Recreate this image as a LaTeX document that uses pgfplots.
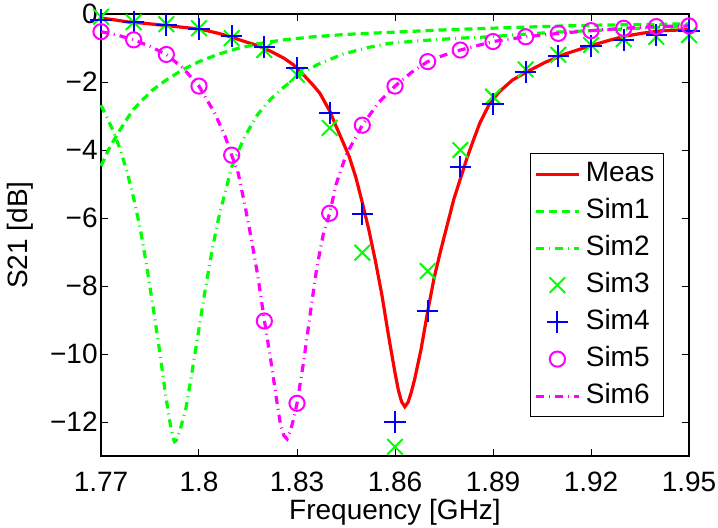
\documentclass[border=0pt]{standalone}
\usepackage{fontspec}
\setmainfont{Liberation Sans}
\usepackage{pgfplots}
\pgfplotsset{compat=1.18}
\definecolor{mred}{RGB}{255,0,0}
\definecolor{mgreen}{RGB}{0,255,0}
\definecolor{mblue}{RGB}{0,0,255}
\definecolor{mmag}{RGB}{255,0,255}
\begin{document}
\begin{tikzpicture}
\begin{axis}[
  scale only axis, width=294pt, height=221pt,
  xmin=1.77, xmax=1.95, ymin=-13, ymax=0,
  xtick={1.77,1.8,1.83,1.86,1.89,1.92,1.95},
  xticklabels={1.77,1.8,1.83,1.86,1.89,1.92,1.95},
  ytick={-12,-10,-8,-6,-4,-2,0},
  yticklabels={−12,−10,−8,−6,−4,−2,0},
  tick align=inside, major tick length=3.5pt,
  tick style={black, line width=0.5pt},
  axis line style={black, line width=0.6pt},
  ticklabel style={font=\fontsize{14}{16}\selectfont},
  xticklabel style={yshift=-4.5pt},
  yticklabel style={inner xsep=1.5pt},
  every axis x label/.style={at={(axis description cs:0.5,-0.1267)}, anchor=center, font=\fontsize{14}{16}\selectfont},
  every axis y label/.style={at={(axis description cs:-0.1378,0.5)}, rotate=90, anchor=center, font=\fontsize{14}{16}\selectfont},
  xlabel={Frequency [GHz]}, ylabel={S21 [dB]},
  clip=false,
  legend image code/.code={\draw[mark repeat=2,mark phase=2,#1] plot coordinates {(0cm,0cm) (0.38cm,0cm) (0.76cm,0cm)};},
  legend style={at={(axis description cs:0.9575,0.088)}, anchor=south east, draw=black, line width=0.5pt, fill=white,
    font=\fontsize{14}{16}\selectfont, row sep=0pt, inner xsep=2pt, inner ysep=1pt,
    nodes={inner sep=2.6pt, text height=10.3pt, text depth=3pt}},
  legend cell align=left,
]
\coordinate (bl) at (rel axis cs:0,0);
\coordinate (tr) at (rel axis cs:1,1);
% Meas
\addplot[mred, line width=1.6pt, mark=none] coordinates {
(1.770,-0.12) (1.774,-0.17) (1.778,-0.23) (1.783,-0.27) (1.788,-0.32) (1.793,-0.37) (1.798,-0.42)
(1.802,-0.48) (1.806,-0.57) (1.810,-0.68) (1.814,-0.81) (1.818,-0.93) (1.822,-1.10) (1.826,-1.30)
(1.829,-1.50) (1.832,-1.79) (1.835,-2.10) (1.837,-2.33) (1.840,-2.85) (1.842,-3.31) (1.844,-3.75)
(1.846,-4.20) (1.848,-4.80) (1.850,-5.55) (1.852,-6.35) (1.854,-7.26) (1.856,-8.27) (1.858,-9.45)
(1.860,-10.55) (1.861,-11.05) (1.862,-11.40) (1.863,-11.55) (1.864,-11.42) (1.865,-11.12) (1.866,-10.75)
(1.868,-9.85) (1.870,-8.75) (1.872,-7.75) (1.874,-6.95) (1.876,-6.20) (1.878,-5.45) (1.880,-4.85)
(1.882,-4.25) (1.884,-3.71) (1.886,-3.20) (1.889,-2.63) (1.892,-2.28) (1.896,-1.94) (1.900,-1.72)
(1.906,-1.42) (1.912,-1.18) (1.919,-0.96) (1.925,-0.79) (1.930,-0.66) (1.936,-0.56) (1.942,-0.49) (1.950,-0.46)
};
\addlegendentry{Meas}
% Sim1
\addplot[mgreen, line width=1.6pt, mark=none, dash pattern=on 4pt off 2.5pt] coordinates {
(1.770,-4.47) (1.772,-4.05) (1.774,-3.70) (1.776,-3.38) (1.778,-3.08) (1.780,-2.80) (1.783,-2.50)
(1.786,-2.22) (1.790,-1.94) (1.795,-1.64) (1.800,-1.40) (1.806,-1.18) (1.812,-1.01) (1.819,-0.86)
(1.826,-0.76) (1.835,-0.67) (1.845,-0.60) (1.8585,-0.54) (1.874,-0.47) (1.889,-0.42) (1.905,-0.37)
(1.920,-0.33) (1.935,-0.31) (1.950,-0.29)
};
\addlegendentry{Sim1}
% Sim2
\addplot[mgreen, line width=1.6pt, mark=none, dash pattern=on 4pt off 2.5pt on 0.5pt off 2.5pt] coordinates {
(1.770,-2.68) (1.772,-3.08) (1.774,-3.50) (1.776,-4.02) (1.778,-4.65) (1.780,-5.42) (1.782,-6.30)
(1.784,-7.42) (1.786,-8.65) (1.788,-9.95) (1.790,-11.35) (1.791,-11.95) (1.792,-12.45) (1.7925,-12.58)
(1.793,-12.55) (1.794,-12.30) (1.796,-11.60) (1.798,-10.45) (1.800,-9.25) (1.802,-8.05) (1.804,-6.95)
(1.806,-6.00) (1.808,-5.25) (1.810,-4.50) (1.814,-3.60) (1.818,-2.95) (1.822,-2.50) (1.826,-2.15)
(1.830,-1.85) (1.836,-1.50) (1.844,-1.18) (1.852,-0.98) (1.8585,-0.86) (1.870,-0.77) (1.880,-0.71)
(1.889,-0.67) (1.900,-0.59) (1.910,-0.53) (1.920,-0.49) (1.935,-0.42) (1.950,-0.36)
};
\addlegendentry{Sim2}
% Sim3
\addplot[mgreen, only marks, mark=x, mark size=5.5pt, line width=1pt] coordinates {
(1.77,-0.08) (1.78,-0.24) (1.79,-0.30) (1.80,-0.42) (1.81,-0.71) (1.82,-1.06) (1.83,-1.79)
(1.84,-3.35) (1.85,-7.02) (1.86,-12.73) (1.87,-7.56) (1.88,-4.00) (1.89,-2.43) (1.90,-1.63)
(1.91,-1.20) (1.92,-0.91) (1.93,-0.74) (1.94,-0.67) (1.95,-0.62)
};
\addlegendentry{Sim3}
% Sim4
\addplot[mblue, only marks, mark=+, mark size=5.4pt, line width=1pt] coordinates {
(1.77,-0.18) (1.78,-0.24) (1.79,-0.32) (1.80,-0.44) (1.81,-0.65) (1.82,-0.97) (1.83,-1.59)
(1.84,-2.91) (1.85,-5.88) (1.86,-12.00) (1.87,-8.73) (1.88,-4.49) (1.89,-2.65) (1.90,-1.70)
(1.91,-1.24) (1.92,-0.94) (1.93,-0.76) (1.94,-0.62) (1.95,-0.50)
};
\addlegendentry{Sim4}
% Sim5
\addplot[mmag, only marks, mark=o, mark size=3.8pt, line width=1pt] coordinates {
(1.77,-0.52) (1.78,-0.76) (1.79,-1.19) (1.80,-2.12) (1.81,-4.15) (1.82,-9.03) (1.83,-11.45)
(1.84,-5.86) (1.85,-3.27) (1.86,-2.12) (1.87,-1.40) (1.88,-1.06) (1.89,-0.81) (1.90,-0.67)
(1.91,-0.57) (1.92,-0.49) (1.93,-0.42) (1.94,-0.37) (1.95,-0.35)
};
\addlegendentry{Sim5}
% Sim6
\addplot[mmag, line width=1.6pt, mark=none, dash pattern=on 4pt off 2.5pt on 0.5pt off 2.5pt] coordinates {
(1.770,-0.52) (1.775,-0.62) (1.780,-0.76) (1.785,-0.95) (1.790,-1.19) (1.795,-1.58) (1.800,-2.12)
(1.805,-2.95) (1.808,-3.60) (1.810,-4.15) (1.812,-4.68) (1.814,-5.60) (1.816,-6.60) (1.818,-7.70)
(1.820,-9.00) (1.822,-10.20) (1.824,-11.50) (1.825,-12.10) (1.826,-12.40) (1.827,-12.50) (1.828,-12.25)
(1.829,-11.90) (1.830,-11.45) (1.832,-10.25) (1.834,-8.85) (1.836,-7.50) (1.838,-6.50) (1.840,-5.86)
(1.842,-5.00) (1.845,-4.15) (1.850,-3.27) (1.855,-2.60) (1.860,-2.12) (1.865,-1.72) (1.870,-1.40)
(1.875,-1.21) (1.880,-1.06) (1.890,-0.81) (1.900,-0.67) (1.910,-0.57) (1.920,-0.49) (1.930,-0.42)
(1.940,-0.37) (1.950,-0.35)
};
\addlegendentry{Sim6}
\end{axis}
\pgfresetboundingbox
\path[use as bounding box] ([xshift=-50.5pt,yshift=-35.5pt]bl) rectangle ([xshift=14.5pt,yshift=7pt]tr);
\end{tikzpicture}
\end{document}
